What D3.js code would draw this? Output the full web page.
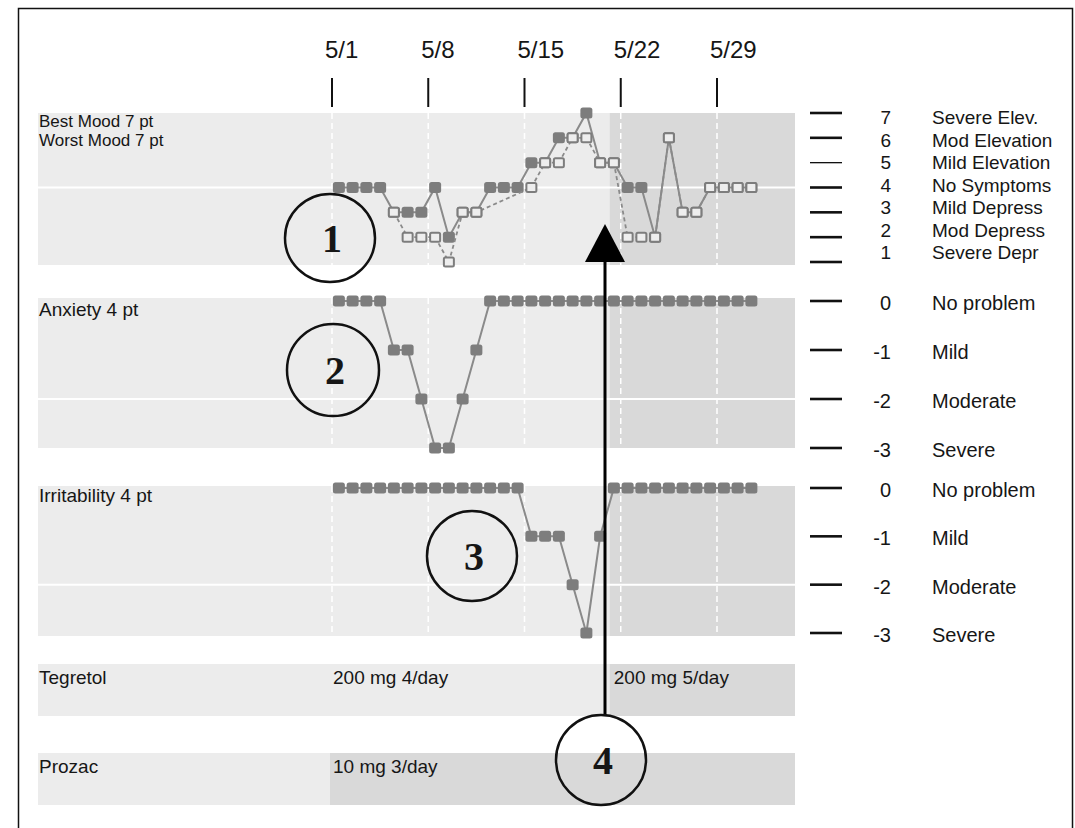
<!DOCTYPE html>
<html><head><meta charset="utf-8">
<script src="https://cdn.jsdelivr.net/npm/d3@7"></script>
<style>
body{margin:0;background:#fff}
svg{display:block}
text{font-family:"Liberation Sans",Arial,Helvetica,sans-serif;fill:#161616}
</style>
</head><body>
<svg id="chart" width="1075" height="828"></svg>
<script>
// ---------- data ----------
const tickDays   = [0, 7, 14, 21, 28];
const tickLabels = ["5/1", "5/8", "5/15", "5/22", "5/29"];

// day offsets from 5/1 (0 .. 30)
const bestMood  = [4,4,4,4,3,3,3,4,2,3,3,4,4,4,5,5,6,6,7,5,5,4,4,2,6,3,3,4,4,4,4];
const worstMood = [null,null,null,null,3,2,2,2,1,3,3,null,null,null,4,5,5,6,6,5,5,2,2,2,6,3,3,4,4,4,4];
const anxiety      = [0,0,0,0,-1,-1,-2,-3,-3,-2,-1,0,0,0,0,0,0,0,0,0,0,0,0,0,0,0,0,0,0,0,0];
const irritability = [0,0,0,0,0,0,0,0,0,0,0,0,0,0,-1,-1,-1,-2,-3,-1,0,0,0,0,0,0,0,0,0,0,0];

const moodLevels = [7,6,5,4,3,2,1];
const moodLabels = ["Severe Elev.","Mod Elevation","Mild Elevation","No Symptoms","Mild Depress","Mod Depress","Severe Depr"];
const sevLevels  = [0,-1,-2,-3];
const sevLabels  = ["No problem","Mild","Moderate","Severe"];

const medNames = ["Tegretol","Prozac"];
const tegretolStart = [0, 20.2];
const tegretolDose  = ["200 mg 4/day","200 mg 5/day"];
const prozacStart   = [0];
const prozacDose    = ["10 mg 3/day"];
const changeDay = 20.2;

const panelTitles = ["Best Mood 7 pt", "Worst Mood 7 pt", "Anxiety 4 pt", "Irritability 4 pt"];
const annotations = ["1","2","3","4"];

// ---------- layout ----------
const svg = d3.select("#chart");
const LEFT = 38, RIGHT = 795;
const LIGHT = "#ececec", DARK = "#d9d9d9", MARK = "#7d7d7d", LINE = "#8a8a8a";

const x = d3.scaleLinear().domain([0, 28]).range([332, 717]);
const px = d => x(d + 0.5);

const yMood = d3.scaleLinear().domain([1, 7]).range([262, 113]);
const yMoodLabel = d3.scaleLinear().domain([1, 7]).range([252, 117]);
const yAnx = d3.scaleLinear().domain([-3, 0]).range([448, 301]);
const yIrr = d3.scaleLinear().domain([-3, 0]).range([633, 488]);

// frame
svg.append("rect").attr("x", 18.5).attr("y", 8.5).attr("width", 1054).attr("height", 900)
  .attr("fill", "none").attr("stroke", "#111").attr("stroke-width", 1.5);

// top date axis
const tg = svg.append("g");
tickDays.forEach((d, i) => {
  tg.append("line").attr("x1", x(d)).attr("x2", x(d)).attr("y1", 78).attr("y2", 107)
    .attr("stroke", "#111").attr("stroke-width", 2);
  tg.append("text").attr("x", x(d) - 7).attr("y", 58).attr("font-size", 24).text(tickLabels[i]);
});

// ---------- symptom panels ----------
function panel(top, bottom, y, whiteLevel) {
  const g = svg.append("g");
  g.append("rect").attr("x", LEFT).attr("y", top).attr("width", RIGHT - LEFT).attr("height", bottom - top).attr("fill", LIGHT);
  g.append("rect").attr("x", x(changeDay)).attr("y", top).attr("width", RIGHT - x(changeDay)).attr("height", bottom - top).attr("fill", DARK);
  g.append("line").attr("x1", LEFT).attr("x2", RIGHT).attr("y1", y(whiteLevel)).attr("y2", y(whiteLevel))
    .attr("stroke", "#fff").attr("stroke-width", 2);
  tickDays.forEach(d => {
    g.append("line").attr("x1", x(d)).attr("x2", x(d)).attr("y1", top).attr("y2", bottom)
      .attr("stroke", "#fff").attr("stroke-width", 1.5).attr("stroke-dasharray", "6,4");
  });
  return g;
}

function filledSeries(g, vals, y) {
  const pts = vals.map((v, i) => ({i, v})).filter(p => p.v !== null);
  g.append("path").datum(pts)
    .attr("d", d3.line().x(p => px(p.i)).y(p => y(p.v)))
    .attr("fill", "none").attr("stroke", LINE).attr("stroke-width", 2);
  g.selectAll(null).data(pts).enter().append("rect")
    .attr("x", p => px(p.i) - 6).attr("y", p => y(p.v) - 5.5)
    .attr("width", 12).attr("height", 11).attr("rx", 2.5)
    .attr("fill", MARK);
}

function hollowSeries(g, vals, y) {
  const pts = vals.map((v, i) => ({i, v})).filter(p => p.v !== null);
  g.append("path").datum(pts)
    .attr("d", d3.line().x(p => px(p.i)).y(p => y(p.v)))
    .attr("fill", "none").attr("stroke", LINE).attr("stroke-width", 1.8).attr("stroke-dasharray", "4,3");
  g.selectAll(null).data(pts).enter().append("rect")
    .attr("x", p => px(p.i) - 5).attr("y", p => y(p.v) - 4.5)
    .attr("width", 10).attr("height", 9).attr("rx", 1.5)
    .attr("fill", "#eeeeee").attr("stroke", MARK).attr("stroke-width", 2);
}

// mood
const gMood = panel(113, 265, yMood, 4);
filledSeries(gMood, bestMood, yMood);
hollowSeries(gMood, worstMood, yMood);

// anxiety
const gAnx = panel(298, 448, yAnx, -2);
filledSeries(gAnx, anxiety, yAnx);

// irritability
const gIrr = panel(486, 636, yIrr, -2);
filledSeries(gIrr, irritability, yIrr);

// left labels
const lab = svg.append("g");
lab.append("text").attr("x", LEFT + 1).attr("y", 127).attr("font-size", 17).text(panelTitles[0]);
lab.append("text").attr("x", LEFT + 1).attr("y", 146).attr("font-size", 17).text(panelTitles[1]);
lab.append("text").attr("x", LEFT + 1).attr("y", 316).attr("font-size", 19).text(panelTitles[2]);
lab.append("text").attr("x", LEFT + 1).attr("y", 502).attr("font-size", 19).text(panelTitles[3]);

// right scale labels
const rg = svg.append("g");
moodLevels.forEach((v, i) => {
  rg.append("line").attr("x1", 810).attr("x2", 842).attr("y1", yMood(v)).attr("y2", yMood(v))
    .attr("stroke", "#111").attr("stroke-width", v === 5 ? 1.3 : 2.6);
  rg.append("text").attr("x", 891).attr("y", yMoodLabel(v) + 7).attr("text-anchor", "end").attr("font-size", 19).text(v);
  rg.append("text").attr("x", 932).attr("y", yMoodLabel(v) + 7).attr("font-size", 19).text(moodLabels[i]);
});
[yAnx, yIrr].forEach(y => {
  sevLevels.forEach((v, i) => {
    rg.append("line").attr("x1", 810).attr("x2", 842).attr("y1", y(v)).attr("y2", y(v))
      .attr("stroke", "#111").attr("stroke-width", 2.6);
    rg.append("text").attr("x", 891).attr("y", y(v) + 9).attr("text-anchor", "end").attr("font-size", 20).text(v);
    rg.append("text").attr("x", 932).attr("y", y(v) + 9).attr("font-size", 20).text(sevLabels[i]);
  });
});

// ---------- medication panels ----------
function medPanel(top, bottom, name, starts, doses, firstDark) {
  const g = svg.append("g");
  g.append("rect").attr("x", LEFT).attr("y", top).attr("width", RIGHT - LEFT).attr("height", bottom - top).attr("fill", LIGHT);
  starts.forEach((s, i) => {
    const end = i + 1 < starts.length ? x(starts[i + 1]) : RIGHT;
    const dark = firstDark ? i === 0 : i > 0;
    if (dark) g.append("rect").attr("x", x(s) - (s === 0 ? 2 : 0)).attr("y", top).attr("width", end - x(s) + (s === 0 ? 2 : 0)).attr("height", bottom - top).attr("fill", DARK);
    g.append("text").attr("x", x(s) + (s === 0 ? 1 : 4)).attr("y", top + 20).attr("font-size", 19).text(doses[i]);
  });
  g.append("text").attr("x", LEFT + 1).attr("y", top + 20).attr("font-size", 19).text(name);
}
medPanel(664, 716, medNames[0], tegretolStart, tegretolDose, false);
medPanel(753, 805, medNames[1], prozacStart, prozacDose, true);

// ---------- annotations ----------
const circ = [
  {cx: 330, cy: 238, rx: 45, ry: 44},
  {cx: 333, cy: 370, rx: 46, ry: 46},
  {cx: 472, cy: 556, rx: 45, ry: 45},
  {cx: 601, cy: 760, rx: 45, ry: 45}
];
// arrow
svg.append("line").attr("x1", 605).attr("x2", 605).attr("y1", 716).attr("y2", 258)
  .attr("stroke", "#000").attr("stroke-width", 3);
svg.append("path").attr("d", "M605,224 L585,262 L625,262 Z").attr("fill", "#000");

const ag = svg.append("g");
circ.forEach((c, i) => {
  ag.append("ellipse").attr("cx", c.cx).attr("cy", c.cy).attr("rx", c.rx).attr("ry", c.ry)
    .attr("fill", "none").attr("stroke", "#111").attr("stroke-width", 2.5);
  ag.append("text").attr("x", c.cx + 2).attr("y", c.cy + 14).attr("text-anchor", "middle")
    .attr("font-size", 40).attr("font-weight", "bold")
    .style("font-family", '"Liberation Serif","DejaVu Serif",serif').text(annotations[i]);
});
</script>
</body></html>
